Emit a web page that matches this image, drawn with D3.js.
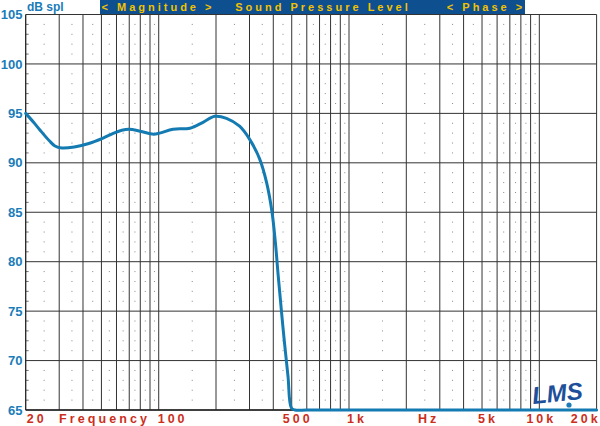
<!DOCTYPE html>
<html><head><meta charset="utf-8">
<script src="https://cdn.jsdelivr.net/npm/d3@7"></script>
<style>
html,body{margin:0;padding:0;background:#fff;}
svg{display:block;}
text{font-family:"Liberation Sans",Arial,Helvetica,sans-serif;font-weight:bold;}
</style></head>
<body>
<svg id="chart" width="600" height="426"></svg>
<script>
// ---- data ----
const freqs = [20, 22, 23.7, 26.7, 28.5, 31, 36, 42, 51, 58, 64, 70, 80, 94, 101, 119, 146, 171, 197, 227, 266, 300, 339, 369, 394, 410, 424, 440, 458, 478, 498, 520, 600, 1000, 20000];
const spl   = [95.0, 94.1, 93.35, 92.2, 91.7, 91.5, 91.6, 91.9, 92.5, 93.0, 93.3, 93.4, 93.2, 92.9, 93.0, 93.4, 93.5, 94.1, 94.7, 94.5, 93.7, 92.4, 90.4, 88.0, 85.0, 82.0, 78.7, 75.3, 71.8, 68.4, 65.2, 62, 55, 40, 30];
const yTicks = [105, 100, 95, 90, 85, 80, 75, 70, 65];
const xTickFreqs = [20, 100, 500, 1000, 5000, 10000, 20000];
const xTickLabels = ["20", "100", "500", "1k", "5k", "10k", "20k"];
const yUnit = "dB spl";
const xTitle = "Frequency";
const xUnit = "Hz";
const bannerTexts = ["< Magnitude >", "Sound Pressure Level", "< Phase >"];

// ---- layout ----
const svg = d3.select("#chart");
const L = 25.7, R = 596.6, T = 14.5, B = 410;
const x = d3.scaleLog().domain([20, 20000]).range([L, R]);
const y = d3.scaleLinear().domain([65, 105]).range([B, T]).clamp(true);

svg.append("defs").append("clipPath").attr("id", "clip")
  .append("rect").attr("x", L - 3).attr("y", T).attr("width", R - L + 6).attr("height", B - T + 2);

// banner
svg.append("rect").attr("x", 100).attr("y", 0).attr("width", 425).attr("height", 14).attr("fill", "#0d4f8f");
const bannerX = [158, 323, 486];
bannerTexts.forEach((t, i) => {
  svg.append("text").attr("x", bannerX[i]).attr("y", 11).attr("text-anchor", "middle")
    .attr("font-size", 11).attr("letter-spacing", 3).attr("fill", "#f2c200").text(t);
});

// minor grid: dots at half-positions and every dB
const g = svg.append("g");
const halfFreqs = [];
[10, 100, 1000].forEach(dec => {
  for (let m = 2; m <= 9; m++) {
    const f = (m + 0.5) * dec;
    if (f > 20 && f < 20000) halfFreqs.push(f);
  }
  if (dec >= 100) halfFreqs.push(1.5 * dec);
});
const dbs = d3.range(65, 106).filter(d => d % 5 !== 0);
halfFreqs.forEach(f => {
  dbs.forEach(d => {
    g.append("rect").attr("x", x(f) - 0.5).attr("y", y(d) - 0.5).attr("width", 1).attr("height", 1).attr("fill", "#888");
  });
});
// left axis small ticks
dbs.forEach(d => {
  g.append("line").attr("x1", L).attr("x2", L + 3).attr("y1", y(d)).attr("y2", y(d)).attr("stroke", "#777").attr("stroke-width", 1);
});

// major vertical lines
const vFreqs = [];
[10, 100, 1000, 10000].forEach(dec => {
  for (let m = 1; m <= 9; m++) {
    const f = m * dec;
    if (f > 20 && f <= 20000) vFreqs.push(f);
  }
});
vFreqs.forEach(f => {
  g.append("line").attr("x1", x(f)).attr("x2", x(f)).attr("y1", T).attr("y2", B)
    .attr("stroke", "#333").attr("stroke-width", 1);
});
// horizontal lines
yTicks.forEach(d => {
  g.append("line").attr("x1", L).attr("x2", R).attr("y1", y(d)).attr("y2", y(d))
    .attr("stroke", "#333").attr("stroke-width", 1);
});
// frame left / bottom
g.append("line").attr("x1", L).attr("x2", L).attr("y1", T).attr("y2", B).attr("stroke", "#222").attr("stroke-width", 1.3);
g.append("line").attr("x1", L).attr("x2", R).attr("y1", B).attr("y2", B).attr("stroke", "#222").attr("stroke-width", 1.3);

// y labels
yTicks.forEach(d => {
  svg.append("text").attr("x", 22.5).attr("y", y(d) + 4.6).attr("text-anchor", "end")
    .attr("font-size", 13).attr("fill", "#1a7cb9").text(d);
});
svg.append("text").attr("x", 27).attr("y", 10.5).attr("font-size", 12).attr("fill", "#1a7cb9").text(yUnit);

// x labels
const anchors = ["start", "start", "middle", "middle", "middle", "middle", "end"];
const dxs = [1, -1, 6, 8, 6, 2, 4];
xTickFreqs.forEach((f, i) => {
  svg.append("text").attr("x", x(f) + dxs[i]).attr("y", 423).attr("text-anchor", anchors[i])
    .attr("font-size", 12.5).attr("letter-spacing", 3).attr("fill", "#cc2e1c").text(xTickLabels[i]);
});
svg.append("text").attr("x", 59).attr("y", 423).attr("font-size", 12.5).attr("letter-spacing", 3.1).attr("fill", "#cc2e1c").text(xTitle);
svg.append("text").attr("x", 418).attr("y", 423).attr("font-size", 12.5).attr("letter-spacing", 3).attr("fill", "#cc2e1c").text(xUnit);

// curve
const line = d3.line().x((d, i) => x(freqs[i])).y((d, i) => y(spl[i])).curve(d3.curveCatmullRom.alpha(0.5));
svg.append("path").datum(spl).attr("d", line).attr("fill", "none").attr("clip-path", "url(#clip)")
  .attr("stroke", "#137bb2").attr("stroke-width", 3).attr("stroke-linejoin", "round").attr("stroke-linecap", "round");

// LMS logo
svg.append("text").attr("x", 533).attr("y", 404).attr("font-size", 24).attr("font-style", "italic")
  .attr("font-weight", "normal").attr("font-family", "DejaVu Serif, serif").attr("fill", "#1d4f9a")
  .attr("transform", "rotate(-6,533,404)").text("LMS");
svg.append("circle").attr("cx", 569).attr("cy", 405).attr("r", 2.6).attr("fill", "#1d7cb8");
</script>
</body></html>
